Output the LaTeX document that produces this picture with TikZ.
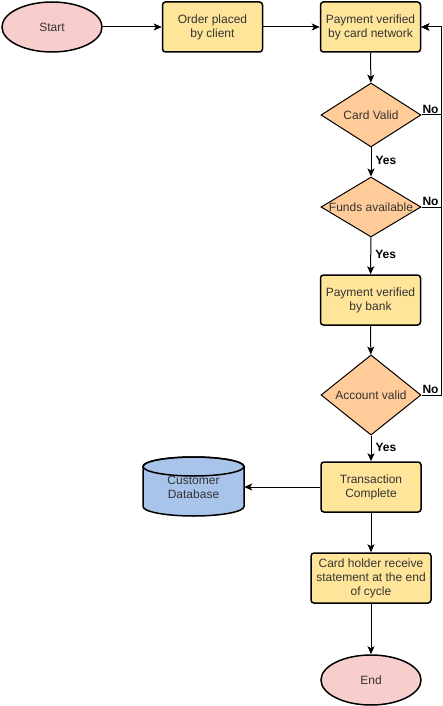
\documentclass[tikz,border=0pt]{standalone}
\usepackage{fontspec}
\setmainfont{Liberation Sans}
\usepackage{xcolor}
\usetikzlibrary{shapes.geometric, arrows.meta}

\definecolor{startpink}{HTML}{F8CECC}
\definecolor{boxyellow}{HTML}{FFE599}
\definecolor{diamondorange}{HTML}{FFCC99}
\definecolor{dbblue}{HTML}{A9C4EB}

\begin{document}
\begin{tikzpicture}[x=1pt, y=-1pt,
    >={Stealth[length=8pt,width=7pt,inset=2pt]},
    every node/.style={font=\fontsize{12}{14}\selectfont, text=black!80},
    terminal/.style={ellipse, draw, line width=1.5pt, fill=startpink, minimum width=100pt, minimum height=50pt, inner sep=0pt},
    process/.style={rectangle, rounded corners=3pt, draw, line width=1.5pt, fill=boxyellow, minimum width=100pt, minimum height=50pt, align=center, inner sep=0pt},
    decision/.style={diamond, draw, line width=1pt, fill=diamondorange, minimum width=100pt, minimum height=60pt, inner sep=0pt},
    answer/.style={font=\fontsize{12}{14}\selectfont\bfseries, text=black, inner sep=1pt},
    flow/.style={->, line width=1pt}
  ]
    \useasboundingbox (0,0) rectangle (442,706);

    % Top row
    \node[terminal] (start) at (52,27) {Start};
    \node[process] (order) at (212.5,27) {Order placed\\by client};
    \node[process] (network) at (370.5,27) {Payment verified\\by card network};

    % Checks going down
    \node[decision] (card) at (371,115) {Card Valid};
    \node[decision] (funds) at (371,207) {\makebox[0pt]{Funds available}};
    \node[process] (bank) at (370.5,300) {Payment verified\\by bank};
    \node[decision] (account) at (371,395) {Account valid};
    \node[process] (done) at (371,487) {Transaction\\Complete};
    \node[process, minimum width=120pt] (statement) at (371,578) {Card holder receive\\statement at the end\\of cycle};
    \node[terminal] (end) at (371,680) {End};

    % Database cylinder
    \filldraw[fill=dbblue, line width=1.5pt] (143,466.5) -- (143,506.5)
      arc[start angle=180, end angle=0, x radius=50.5, y radius=9.5]
      -- (244,466.5)
      arc[start angle=0, end angle=-180, x radius=50.5, y radius=9.5] -- cycle;
    \draw[line width=1.5pt] (193.5,466.5) ellipse [x radius=50.5, y radius=9.5];
    \node[minimum width=101pt, minimum height=59pt, align=center, inner sep=0pt] (db) at (193.5,487) {Customer\\Database};

    % Rail for the rejected checks
    \coordinate (rail) at (441,27);

    % Main flow
    \draw[flow] (start) -- (order);
    \draw[flow] (order) -- (network);
    \draw[flow] (network) -- (card);
    \draw[flow] (card) -- node[answer, right, pos=0.45, xshift=3pt] {Yes} (funds);
    \draw[flow] (funds) -- node[answer, right, pos=0.45, xshift=3pt] {Yes} (bank);
    \draw[flow] (bank) -- (account);
    \draw[flow] (account) -- node[answer, right, pos=0.45, xshift=3pt] {Yes} (done);
    \draw[flow] (done) -- (db);
    \draw[flow] (done) -- (statement);
    \draw[flow] (statement) -- (end);

    % Back to the card network
    \draw[flow] (card.east) -- (card.east -| rail) node[answer, above left, xshift=-1pt] {No} |- (network.east);
    \draw[flow] (funds.east) -- (funds.east -| rail) node[answer, above left, xshift=-1pt] {No} |- (network.east);
    \draw[flow] (account.east) -- (account.east -| rail) node[answer, above left, xshift=-1pt] {No} |- (network.east);
  \end{tikzpicture}
\end{document}
